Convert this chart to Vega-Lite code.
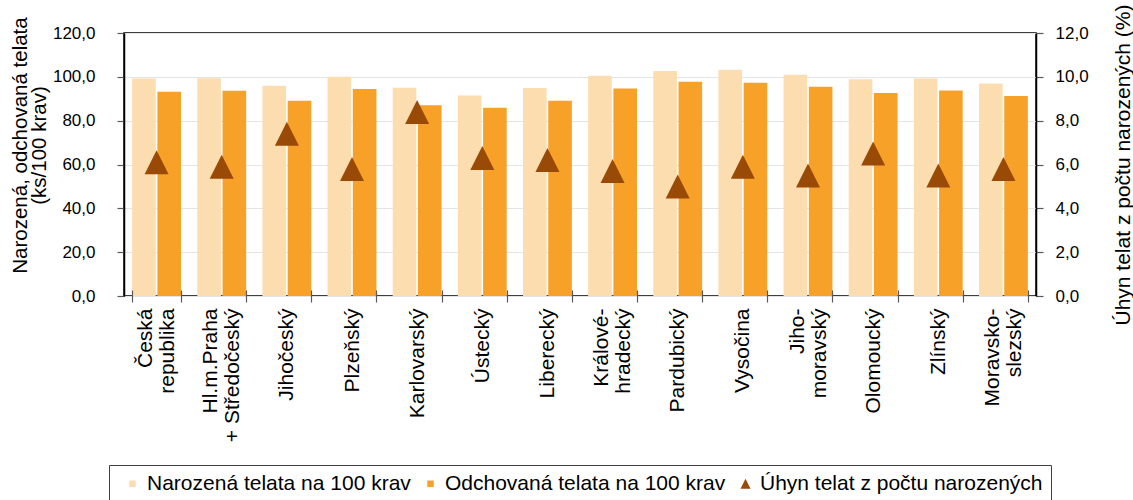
{
  "$schema": "https://vega.github.io/schema/vega-lite/v6.json",
  "width": 912,
  "height": 263,
  "autosize": {"type": "none"},
  "padding": {"left": 124, "top": 33, "right": 97, "bottom": 204},
  "title": {
    "text": "podle krajů v roce 2022",
    "frame": "group",
    "anchor": "middle",
    "offset": 29,
    "baseline": "alphabetic",
    "dx": 34,
    "fontSize": 24,
    "font": "Liberation Sans",
    "fontWeight": "bold",
    "color": "#000000"
  },
  "config": {
    "font": "Liberation Sans",
    "view": {"stroke": "#000000", "strokeWidth": 1.5},
    "axis": {
      "labelFont": "Liberation Sans",
      "titleFont": "Liberation Sans",
      "labelColor": "#000000",
      "titleColor": "#000000",
      "titleFontWeight": "normal",
      "domainColor": "#000000",
      "domainWidth": 1.5,
      "tickColor": "#595959",
      "tickWidth": 1.2
    },
    "legend": {
      "labelFont": "Liberation Sans",
      "labelFontSize": 21,
      "labelColor": "#000000",
      "labelLimit": 500,
      "layout": {"bottom": {"anchor": "middle"}}
    }
  },
  "data": {
    "values": [
      {"kraj": "Česká\nrepublika", "series": "Narozená telata na 100 krav", "value": 99.2},
      {"kraj": "Česká\nrepublika", "series": "Odchovaná telata na 100 krav", "value": 93.2},
      {"kraj": "Česká\nrepublika", "series": "Úhyn telat z počtu narozených", "value": 6.1},
      {"kraj": "Hl.m.Praha\n+ Středočeský", "series": "Narozená telata na 100 krav", "value": 99.4},
      {"kraj": "Hl.m.Praha\n+ Středočeský", "series": "Odchovaná telata na 100 krav", "value": 93.6},
      {"kraj": "Hl.m.Praha\n+ Středočeský", "series": "Úhyn telat z počtu narozených", "value": 5.9},
      {"kraj": "Jihočeský", "series": "Narozená telata na 100 krav", "value": 95.9},
      {"kraj": "Jihočeský", "series": "Odchovaná telata na 100 krav", "value": 89.1},
      {"kraj": "Jihočeský", "series": "Úhyn telat z počtu narozených", "value": 7.4},
      {"kraj": "Plzeňský", "series": "Narozená telata na 100 krav", "value": 100.0},
      {"kraj": "Plzeňský", "series": "Odchovaná telata na 100 krav", "value": 94.4},
      {"kraj": "Plzeňský", "series": "Úhyn telat z počtu narozených", "value": 5.8},
      {"kraj": "Karlovarský", "series": "Narozená telata na 100 krav", "value": 95.0},
      {"kraj": "Karlovarský", "series": "Odchovaná telata na 100 krav", "value": 87.0},
      {"kraj": "Karlovarský", "series": "Úhyn telat z počtu narozených", "value": 8.4},
      {"kraj": "Ústecký", "series": "Narozená telata na 100 krav", "value": 91.5},
      {"kraj": "Ústecký", "series": "Odchovaná telata na 100 krav", "value": 85.9},
      {"kraj": "Ústecký", "series": "Úhyn telat z počtu narozených", "value": 6.3},
      {"kraj": "Liberecký", "series": "Narozená telata na 100 krav", "value": 94.9},
      {"kraj": "Liberecký", "series": "Odchovaná telata na 100 krav", "value": 89.1},
      {"kraj": "Liberecký", "series": "Úhyn telat z počtu narozených", "value": 6.2},
      {"kraj": "Králové-\nhradecký", "series": "Narozená telata na 100 krav", "value": 100.5},
      {"kraj": "Králové-\nhradecký", "series": "Odchovaná telata na 100 krav", "value": 94.7},
      {"kraj": "Králové-\nhradecký", "series": "Úhyn telat z počtu narozených", "value": 5.7},
      {"kraj": "Pardubický", "series": "Narozená telata na 100 krav", "value": 102.7},
      {"kraj": "Pardubický", "series": "Odchovaná telata na 100 krav", "value": 97.7},
      {"kraj": "Pardubický", "series": "Úhyn telat z počtu narozených", "value": 5.0},
      {"kraj": "Vysočina", "series": "Narozená telata na 100 krav", "value": 103.2},
      {"kraj": "Vysočina", "series": "Odchovaná telata na 100 krav", "value": 97.3},
      {"kraj": "Vysočina", "series": "Úhyn telat z počtu narozených", "value": 5.9},
      {"kraj": "Jiho-\nmoravský", "series": "Narozená telata na 100 krav", "value": 100.9},
      {"kraj": "Jiho-\nmoravský", "series": "Odchovaná telata na 100 krav", "value": 95.5},
      {"kraj": "Jiho-\nmoravský", "series": "Úhyn telat z počtu narozených", "value": 5.5},
      {"kraj": "Olomoucký", "series": "Narozená telata na 100 krav", "value": 98.9},
      {"kraj": "Olomoucký", "series": "Odchovaná telata na 100 krav", "value": 92.6},
      {"kraj": "Olomoucký", "series": "Úhyn telat z počtu narozených", "value": 6.5},
      {"kraj": "Zlínský", "series": "Narozená telata na 100 krav", "value": 99.2},
      {"kraj": "Zlínský", "series": "Odchovaná telata na 100 krav", "value": 93.8},
      {"kraj": "Zlínský", "series": "Úhyn telat z počtu narozených", "value": 5.5},
      {"kraj": "Moravsko-\nslezský", "series": "Narozená telata na 100 krav", "value": 97.0},
      {"kraj": "Moravsko-\nslezský", "series": "Odchovaná telata na 100 krav", "value": 91.2},
      {"kraj": "Moravsko-\nslezský", "series": "Úhyn telat z počtu narozených", "value": 5.8}
    ]
  },
  "encoding": {
    "x": {
      "field": "kraj",
      "type": "nominal",
      "sort": null,
      "scale": {"paddingInner": 0.25, "paddingOuter": 0.125},
      "axis": {
        "title": null,
        "zindex": 1,
        "offset": -6,
        "domain": false,
        "labelAngle": -90,
        "labelExpr": "indexof(datum.label, '\\n') >= 0 ? ['\u200b', split(datum.label, '\\n')[0], '\u200b', split(datum.label, '\\n')[1]] : ['\u200b', '\u200b', datum.label]",
        "labelFontSize": 21,
        "labelLineHeight": 11,
        "labelOffset": -22,
        "labelPadding": 6,
        "tickBand": "extent",
        "tickSize": 12,
        "grid": false
      }
    }
  },
  "layer": [
    {
      "transform": [{"filter": "datum.series != 'Úhyn telat z počtu narozených'"}],
      "mark": {"type": "bar"},
      "encoding": {
        "xOffset": {
          "field": "series",
          "type": "nominal",
          "scale": {"domain": ["Narozená telata na 100 krav", "Odchovaná telata na 100 krav"], "paddingInner": 0.065}
        },
        "y": {
          "field": "value",
          "type": "quantitative",
          "scale": {"domain": [0, 120]},
          "axis": {
            "orient": "left",
            "values": [0, 20, 40, 60, 80, 100, 120],
            "labelExpr": "replace(format(datum.value, '.1f'), '.', ',')",
            "labelFontSize": 17,
            "labelPadding": 22,
            "tickSize": 7,
            "grid": true,
            "gridColor": "#e4e4e4",
            "title": ["Narozená, odchovaná telata", "(ks/100 krav)"],
            "titleFontSize": 20.5,
            "titleLineHeight": 19,
            "titlePadding": 3,
            "titleY": 112
          }
        },
        "color": {
          "field": "series",
          "type": "nominal",
          "scale": {
            "domain": ["Narozená telata na 100 krav", "Odchovaná telata na 100 krav", "Úhyn telat z počtu narozených"],
            "range": ["#FCDDB0", "#F7A129", "#994A06"]
          }
        }
      }
    },
    {
      "transform": [{"filter": "datum.series == 'Úhyn telat z počtu narozených'"}],
      "mark": {"type": "point", "filled": true, "size": 576, "opacity": 1},
      "encoding": {
        "y": {
          "field": "value",
          "type": "quantitative",
          "scale": {"domain": [0, 12]},
          "axis": {
            "orient": "right",
            "values": [0, 2, 4, 6, 8, 10, 12],
            "labelExpr": "replace(format(datum.value, '.1f'), '.', ',')",
            "labelFontSize": 17,
            "labelPadding": 12,
            "tickSize": 7,
            "grid": false,
            "title": "Úhyn telat z počtu narozených (%)",
            "titleFontSize": 21,
            "titleAngle": 270,
            "titleBaseline": "top",
            "titlePadding": 24
          }
        },
        "color": {
          "field": "series",
          "type": "nominal",
          "scale": {
            "domain": ["Narozená telata na 100 krav", "Odchovaná telata na 100 krav", "Úhyn telat z počtu narozených"],
            "range": ["#FCDDB0", "#F7A129", "#994A06"]
          },
          "legend": {
            "title": null,
            "orient": "bottom",
            "direction": "horizontal",
            "strokeColor": "#404040",
            "padding": 8,
            "offset": 23,
            "symbolOffset": 5,
            "columnPadding": 4,
            "labelOffset": 4,
            "symbolSize": 100,
            "symbolStrokeWidth": 0
          }
        },
        "shape": {
          "field": "series",
          "type": "nominal",
          "scale": {
            "domain": ["Narozená telata na 100 krav", "Odchovaná telata na 100 krav", "Úhyn telat z počtu narozených"],
            "range": ["M-0.65,-0.65L0.65,-0.65L0.65,0.65L-0.65,0.65Z", "M-0.65,-0.65L0.65,-0.65L0.65,0.65L-0.65,0.65Z", "M0,-1L1,1L-1,1Z"]
          },
          "legend": {
            "title": null,
            "orient": "bottom",
            "direction": "horizontal",
            "strokeColor": "#404040",
            "padding": 8,
            "offset": 23,
            "symbolOffset": 5,
            "columnPadding": 4,
            "labelOffset": 4,
            "symbolSize": 100,
            "symbolStrokeWidth": 0
          }
        }
      }
    }
  ],
  "resolve": {
    "scale": {"y": "independent"},
    "axis": {"y": "independent"}
  }
}
